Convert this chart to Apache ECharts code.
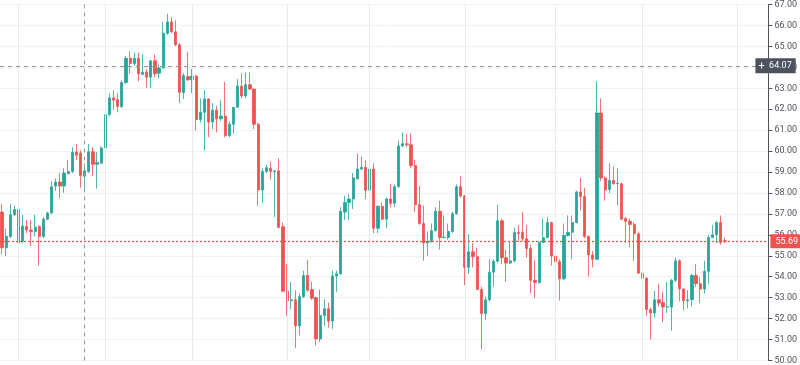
<!DOCTYPE html>
<html>
<head>
<meta charset="utf-8">
<script src="https://cdn.jsdelivr.net/npm/echarts@6/dist/echarts.min.js"></script>
<style>
html,body{margin:0;padding:0;background:#fff;}
#chart{width:800px;height:365px;}
</style>
</head>
<body>
<div id="chart"></div>
<script>
// OHLC values (one entry per trading day)
const opens = [
57.09,55.38,55.92,56.96,57.21,55.69,56.40,56.23,56.16,56.40,
55.92,56.75,57.04,58.33,58.52,58.33,58.92,59.03,59.96,59.91,
58.80,59.03,59.97,59.37,59.42,60.15,61.75,62.54,62.46,62.13,
63.27,64.43,64.18,64.43,63.66,63.77,63.53,64.31,63.72,63.97,
65.63,66.17,65.70,65.08,62.80,63.56,63.41,63.58,61.51,61.85,
62.49,61.39,61.95,61.54,61.67,60.74,61.28,62.09,63.11,62.63,
63.17,62.96,61.28,58.14,59.03,59.18,59.03,59.06,56.39,53.31,
52.85,52.90,51.65,53.05,54.06,53.39,53.00,51.03,52.15,52.47,
51.89,54.04,54.14,57.09,57.55,57.71,58.68,59.14,59.23,58.13,
59.14,56.31,57.37,56.75,57.71,57.51,58.30,60.24,60.35,60.30,
59.31,57.44,56.54,55.61,55.69,56.20,57.13,55.87,55.87,56.16,
57.01,58.30,57.86,54.45,55.19,54.96,53.39,52.24,52.90,54.22,
54.74,56.67,54.91,54.65,54.76,56.11,56.11,55.81,55.35,53.83,
53.72,55.64,55.87,56.59,54.99,54.72,53.90,55.97,56.12,56.59,
58.05,57.83,55.92,55.04,54.83,61.82,58.72,58.17,58.60,58.44,
58.44,56.78,56.65,56.50,56.05,54.17,53.93,52.43,52.27,52.90,
52.77,52.55,52.55,53.83,54.76,53.42,52.85,52.90,54.06,53.67,
53.41,54.26,55.87,56.00,56.59,55.72
];
const closes = [
55.38,55.92,56.96,57.21,55.64,56.42,56.23,56.16,56.37,55.92,
56.75,57.04,58.30,58.52,58.33,58.95,59.03,59.94,59.80,58.83,
59.06,59.97,59.37,59.46,60.15,61.75,62.54,62.43,62.13,63.27,
64.43,64.18,64.43,63.69,63.77,63.53,64.31,63.69,63.97,65.63,
66.17,65.70,65.08,62.80,63.61,63.41,63.58,61.51,61.85,62.49,
61.39,61.95,61.54,61.67,60.74,61.28,62.09,63.11,62.63,63.17,
62.96,61.28,58.14,59.03,59.21,59.03,59.06,56.36,53.31,52.85,
52.90,51.65,53.05,54.06,53.36,52.97,51.03,52.15,52.47,51.89,
54.04,54.14,57.13,57.55,57.71,58.72,59.14,59.23,58.13,59.14,
56.31,57.37,56.75,57.71,57.51,58.30,60.24,60.35,60.30,59.31,
57.44,56.54,55.61,55.69,56.20,57.13,55.87,55.89,56.16,57.01,
58.30,57.86,54.45,55.19,54.96,53.39,52.24,52.90,54.22,54.74,
56.67,54.91,54.65,54.76,56.11,56.06,55.81,55.35,53.83,53.72,
55.64,55.87,56.59,54.99,54.72,53.90,55.97,56.12,56.59,58.05,
57.83,55.92,55.04,54.83,61.82,58.72,58.14,58.60,58.44,58.46,
56.75,56.65,56.50,56.05,54.17,53.93,52.43,52.27,52.90,52.74,
52.55,52.58,53.83,54.76,53.42,52.85,52.90,54.06,53.67,53.41,
54.26,55.87,56.00,56.59,55.64,55.69
];
const lows = [
55.07,54.99,55.84,56.90,55.53,55.61,56.08,55.46,55.92,54.53,
55.84,56.70,57.00,58.10,57.75,58.02,58.90,58.95,59.57,58.25,
58.17,58.95,58.80,58.21,59.39,60.12,61.67,61.98,61.85,62.06,
63.22,63.69,64.07,63.33,63.64,63.02,63.02,63.53,63.48,63.92,
65.55,65.63,65.01,62.29,62.49,63.34,62.76,60.97,61.36,60.04,
60.66,61.05,60.89,61.43,60.66,60.66,60.84,62.06,62.52,62.52,
62.91,61.05,57.37,57.51,58.95,58.64,56.85,56.31,53.28,52.12,
52.43,50.60,51.19,52.97,53.28,52.89,50.72,50.88,51.65,51.57,
51.50,53.28,54.10,56.70,56.70,57.24,58.64,59.10,57.71,58.10,
56.08,56.08,56.70,56.31,57.32,57.32,58.25,60.19,60.19,59.18,
57.09,56.47,54.76,54.99,55.61,56.16,55.30,55.84,55.77,56.10,
56.96,57.78,53.59,54.14,54.45,53.36,50.53,51.93,52.82,53.52,
54.68,54.60,53.75,54.60,54.68,55.69,55.69,54.91,53.20,52.97,
53.67,55.61,55.84,54.53,54.37,52.86,53.83,55.92,54.83,56.54,
57.16,55.84,54.01,54.45,54.80,58.56,57.63,57.99,58.40,57.40,
56.70,55.61,55.41,54.76,54.14,53.67,52.12,51.00,52.04,52.58,
51.81,52.27,51.42,53.75,52.82,52.40,52.50,52.58,53.52,52.74,
53.20,53.64,55.84,55.61,55.53,55.61
];
const highs = [
57.47,56.31,57.47,57.40,57.83,56.96,56.70,56.70,56.96,56.46,
56.85,57.10,58.56,58.69,58.95,59.18,59.57,60.19,60.35,60.04,
59.42,60.35,60.19,59.96,60.22,61.82,62.76,62.91,62.76,63.38,
64.54,64.77,64.70,64.70,64.62,63.92,64.35,64.62,64.12,66.17,
66.56,66.40,66.25,65.16,63.73,64.73,63.92,63.64,62.52,62.91,
62.52,62.29,62.17,62.44,63.30,61.43,62.10,63.45,63.72,63.76,
63.76,63.00,61.36,59.18,59.34,59.49,59.08,59.65,56.59,54.60,
53.75,53.36,53.21,54.29,54.80,53.75,53.05,53.39,52.93,52.77,
54.29,54.29,57.32,57.86,57.94,58.95,59.88,59.73,59.57,60.24,
59.42,57.40,57.55,57.79,58.44,58.41,60.50,60.89,60.81,60.84,
59.57,58.33,57.40,56.16,56.54,57.32,57.63,56.93,56.54,57.09,
58.41,58.80,57.90,56.03,55.61,55.38,53.52,53.05,54.83,54.83,
57.43,56.78,55.30,55.69,56.34,56.47,57.09,56.47,55.53,54.79,
55.69,56.78,56.85,56.62,55.53,54.83,56.54,56.93,56.93,58.10,
58.72,58.25,55.97,55.22,63.34,62.52,58.80,59.42,59.26,59.18,
58.50,56.85,56.78,56.59,56.16,54.83,53.98,52.51,53.33,53.67,
53.28,53.75,53.90,54.91,54.83,53.44,53.36,54.14,54.60,53.98,
54.76,56.00,56.47,56.65,56.93,55.87
];
const emptySlots = 10;               // blank space to the right of the last bar
const monthStarts = [4, 25, 46, 69, 89, 112, 134, 155, 178];
const crossIndex = 20;
const crossPrice = 64.07;
const lastPrice = 55.69;
const yMin = 50, yMax = 67, yStep = 1;

const UP = '#26a69a', DOWN = '#ef5350';

const categories = [];
for (let i = 0; i < opens.length + emptySlots; i++) categories.push(String(i));
const ohlc = opens.map((o, i) => [o, closes[i], lows[i], highs[i]]);

const chart = echarts.init(document.getElementById('chart'), null, {renderer: 'canvas'});
chart.setOption({
  animation: false,
  backgroundColor: '#ffffff',
  grid: {left: 0, right: 31, top: 0, bottom: 0, containLabel: false},
  xAxis: {
    type: 'category',
    data: categories,
    boundaryGap: true,
    axisLine: {show: false},
    axisTick: {show: false},
    axisLabel: {show: false},
    splitLine: {show: false}
  },
  yAxis: {
    type: 'value',
    position: 'right',
    min: yMin, max: yMax, interval: yStep,
    axisLine: {show: true, lineStyle: {color: '#50535e', width: 1}},
    axisTick: {show: true, length: 4, lineStyle: {color: '#50535e'}},
    axisLabel: {
      show: true, margin: 6, color: '#50535e',
      fontFamily: 'Roboto', fontSize: 9,
      formatter: v => v.toFixed(2)
    },
    splitLine: {show: true, lineStyle: {color: '#eef1f6', width: 1}}
  },
  series: [
    {
      type: 'line',
      data: [],
      z: 1,
      silent: true,
      markLine: {
        silent: true,
        symbol: 'none',
        label: {show: false},
        lineStyle: {color: '#e6eaf1', type: 'solid', width: 1},
        data: monthStarts.map(i => ({xAxis: i}))
      }
    },
    {
      type: 'candlestick',
      z: 3,
      data: ohlc,
      barWidth: 2.7,
      itemStyle: {
        color: UP, color0: DOWN,
        borderColor: 'rgba(38,166,154,0.8)', borderColor0: 'rgba(239,83,80,0.8)',
        borderWidth: 1
      },
      markLine: {
        silent: true,
        symbol: 'none',
        animation: false,
        data: [
          {xAxis: crossIndex, lineStyle: {color: '#9598a1', type: [4, 4], width: 1}, label: {show: false}},
          {yAxis: crossPrice, lineStyle: {color: '#9598a1', type: [4, 4], width: 1},
           label: {show: true, position: 'end', distance: -13,
             formatter: '{p|+}  ' + crossPrice.toFixed(2),
             backgroundColor: '#4c525e', color: '#fff', padding: [2, 4, 2, 3],
             fontFamily: 'Roboto', fontSize: 9,
             rich: {p: {color: '#fff', fontSize: 11, fontFamily: 'Roboto'}}}},
          {yAxis: lastPrice, lineStyle: {color: '#ef5350', type: [2, 2], width: 1.3},
           label: {show: true, position: 'end', distance: 2,
             formatter: lastPrice.toFixed(2),
             backgroundColor: '#ef5350', color: '#fff', padding: [3, 5, 2, 5],
             fontFamily: 'Roboto', fontSize: 9}}
        ]
      }
    }
  ]
});
</script>
</body>
</html>
